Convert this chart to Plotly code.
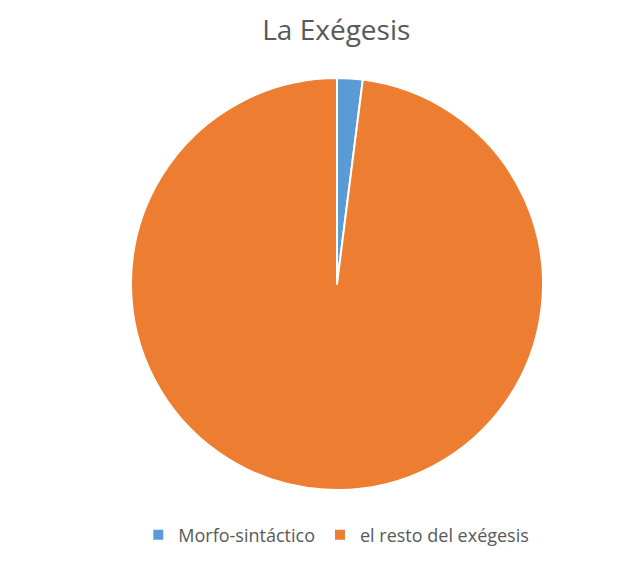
import plotly.graph_objects as go

# Data
labels = ["Morfo-sintáctico", "el resto del exégesis"]
values = [2, 98]
colors = ["#5B9BD5", "#ED7D31"]

W, H = 635, 563
# compensate for plotly's small domain offset
cx, cy, r = 329, 276, 206

fig = go.Figure()
fig.add_trace(go.Pie(
    labels=labels,
    values=values,
    sort=False,
    direction="clockwise",
    rotation=0,
    textinfo="none",
    hoverinfo="label+percent",
    marker=dict(colors=colors, line=dict(color="white", width=2)),
    domain=dict(x=[(cx - r) / W, (cx + r) / W],
                y=[(H - cy - r) / H, (H - cy + r) / H]),
))

fig.update_layout(
    width=W,
    height=H,
    margin=dict(l=0, r=0, t=0, b=0),
    paper_bgcolor="white",
    font=dict(family="Open Sans, Noto Sans, sans-serif", color="#595959"),
    title=dict(text="La Exégesis", x=0.517, xanchor="center",
               y=1 - 22 / H, yanchor="middle",
               font=dict(size=28, color="#595959")),
    legend=dict(orientation="h", x=0.517, xanchor="center",
                y=1 - 527 / H, yanchor="middle",
                font=dict(size=18, color="#595959"),
                itemwidth=30, tracegroupgap=0),
)

fig.write_html("out.html")
